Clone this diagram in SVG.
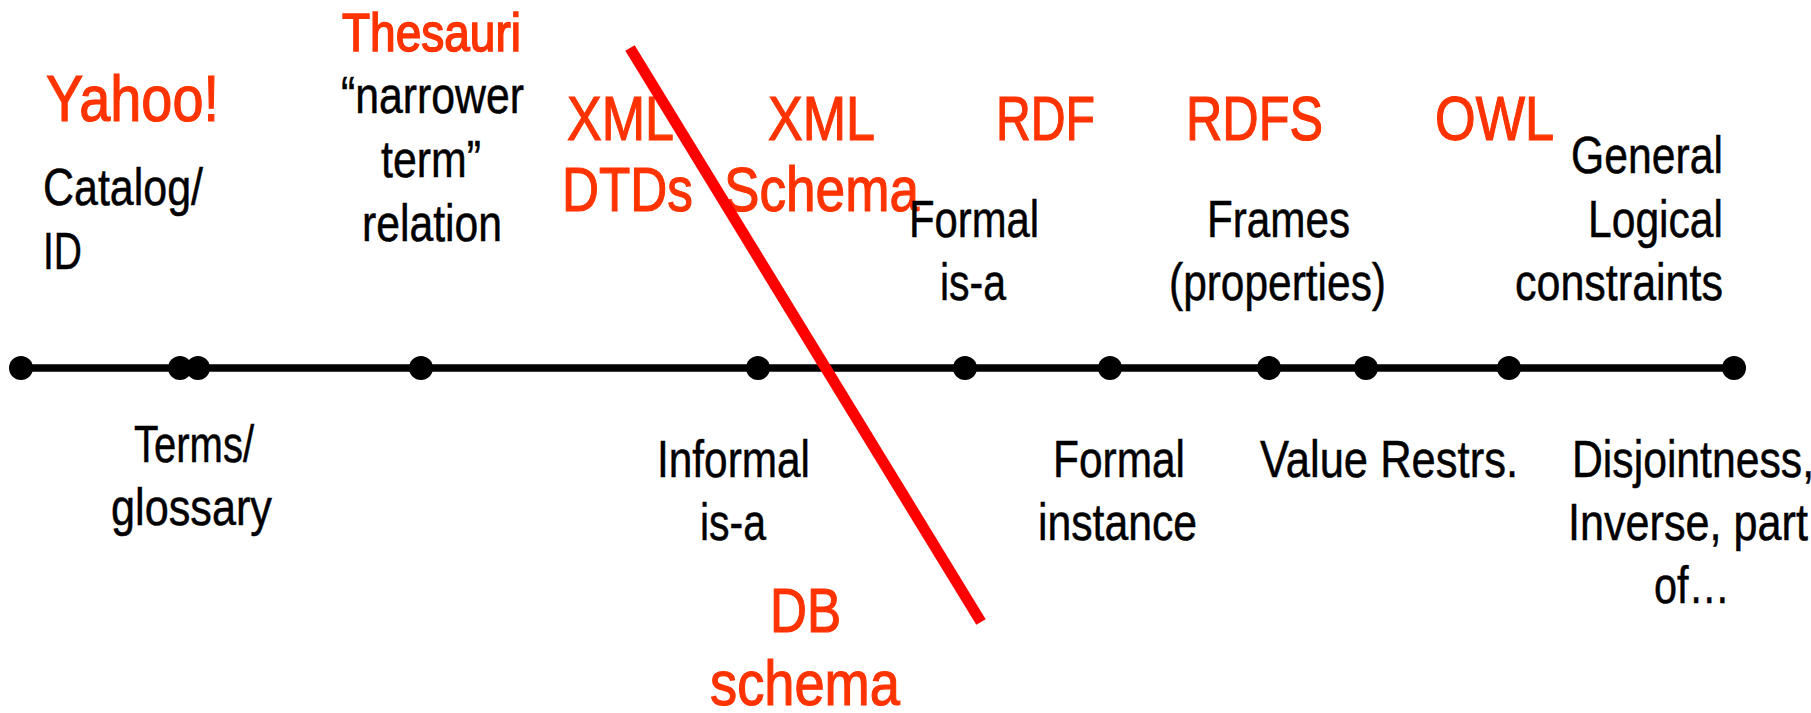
<svg xmlns="http://www.w3.org/2000/svg" width="1811" height="713" viewBox="0 0 1811 713">
<style>
text { font-family: "Liberation Sans", Arial, sans-serif; }
.red { fill: #FF3300; stroke: #FF3300; stroke-width: 1.2; font-size: 63px; }
.redS { fill: #FF3300; stroke: #FF3300; stroke-width: 1.6; font-size: 53px; }
.blk { fill: #000000; stroke: #000000; stroke-width: 0.5; font-size: 52px; }
.dot { fill: #000000; }
.axis { stroke: #000000; stroke-width: 7.5; fill: none; }
.cut { stroke: #FF0000; stroke-width: 11; fill: none; }
</style>
<rect width="1811" height="713" fill="#FFFFFF"/>
<g id="connectors">
  <line class="axis" x1="21" y1="368" x2="1734" y2="368"/>
</g>
<g id="points">
  <circle class="dot" cx="21" cy="368" r="12"/>
  <circle class="dot" cx="180" cy="368" r="12"/>
  <circle class="dot" cx="198" cy="368" r="12"/>
  <circle class="dot" cx="421" cy="368" r="12"/>
  <circle class="dot" cx="758" cy="368" r="12"/>
  <circle class="dot" cx="965" cy="368" r="12"/>
  <circle class="dot" cx="1110" cy="368" r="12"/>
  <circle class="dot" cx="1269" cy="368" r="12"/>
  <circle class="dot" cx="1366" cy="368" r="12"/>
  <circle class="dot" cx="1509" cy="368" r="12"/>
  <circle class="dot" cx="1734" cy="368" r="12"/>
</g>
<g id="yahoo">
  <text class="red" x="46" y="121" style="font-size:64px" textLength="173" lengthAdjust="spacingAndGlyphs">Yahoo!</text>
  <text class="blk" x="43" y="205" textLength="160" lengthAdjust="spacingAndGlyphs">Catalog/</text>
  <text class="blk" x="43" y="269" textLength="39" lengthAdjust="spacingAndGlyphs">ID</text>
</g>
<g id="thesauri">
  <text class="redS" x="342" y="51" textLength="179" lengthAdjust="spacingAndGlyphs">Thesauri</text>
  <text class="blk" x="341" y="113" textLength="183" lengthAdjust="spacingAndGlyphs">“narrower</text>
  <text class="blk" x="381" y="177" textLength="100" lengthAdjust="spacingAndGlyphs">term”</text>
  <text class="blk" x="362" y="241" textLength="140" lengthAdjust="spacingAndGlyphs">relation</text>
</g>
<g id="terms">
  <text class="blk" x="134" y="462" textLength="120" lengthAdjust="spacingAndGlyphs">Terms/</text>
  <text class="blk" x="111" y="525" textLength="161" lengthAdjust="spacingAndGlyphs">glossary</text>
</g>
<g id="xml-dtds">
  <text class="red" x="567" y="140" textLength="107" lengthAdjust="spacingAndGlyphs">XML</text>
  <text class="red" x="562" y="211" textLength="131" lengthAdjust="spacingAndGlyphs">DTDs</text>
</g>
<g id="xml-schema">
  <text class="red" x="768" y="140" textLength="107" lengthAdjust="spacingAndGlyphs">XML</text>
  <text class="red" x="724" y="211" textLength="195" lengthAdjust="spacingAndGlyphs">Schema</text>
</g>
<g id="informal-isa">
  <text class="blk" x="657" y="477" textLength="153" lengthAdjust="spacingAndGlyphs">Informal</text>
  <text class="blk" x="700" y="540" textLength="66" lengthAdjust="spacingAndGlyphs">is-a</text>
</g>
<g id="db-schema">
  <text class="red" x="770" y="632" textLength="71" lengthAdjust="spacingAndGlyphs">DB</text>
  <text class="red" x="710" y="705" textLength="190" lengthAdjust="spacingAndGlyphs">schema</text>
</g>
<g id="rdf">
  <text class="red" x="996" y="140" textLength="99" lengthAdjust="spacingAndGlyphs">RDF</text>
</g>
<g id="formal-isa">
  <text class="blk" x="909" y="237" textLength="130" lengthAdjust="spacingAndGlyphs">Formal</text>
  <text class="blk" x="940" y="300" textLength="66" lengthAdjust="spacingAndGlyphs">is-a</text>
</g>
<g id="formal-instance">
  <text class="blk" x="1053" y="477" textLength="132" lengthAdjust="spacingAndGlyphs">Formal</text>
  <text class="blk" x="1038" y="540" textLength="159" lengthAdjust="spacingAndGlyphs">instance</text>
</g>
<g id="rdfs">
  <text class="red" x="1186" y="140" textLength="137" lengthAdjust="spacingAndGlyphs">RDFS</text>
  <text class="blk" x="1207" y="237" textLength="143" lengthAdjust="spacingAndGlyphs">Frames</text>
  <text class="blk" x="1169" y="300" textLength="217" lengthAdjust="spacingAndGlyphs">(properties)</text>
</g>
<g id="value-restrs">
  <text class="blk" x="1260" y="477" textLength="258" lengthAdjust="spacingAndGlyphs">Value Restrs.</text>
</g>
<g id="owl">
  <text class="red" x="1435" y="140" textLength="119" lengthAdjust="spacingAndGlyphs">OWL</text>
  <text class="blk" x="1571" y="173" textLength="152" lengthAdjust="spacingAndGlyphs">General</text>
  <text class="blk" x="1588" y="237" textLength="135" lengthAdjust="spacingAndGlyphs">Logical</text>
  <text class="blk" x="1515" y="300" textLength="208" lengthAdjust="spacingAndGlyphs">constraints</text>
</g>
<g id="disjointness">
  <text class="blk" x="1572" y="477" textLength="242" lengthAdjust="spacingAndGlyphs">Disjointness,</text>
  <text class="blk" x="1568" y="540" textLength="240" lengthAdjust="spacingAndGlyphs">Inverse, part</text>
  <text class="blk" x="1654" y="603" textLength="76" lengthAdjust="spacingAndGlyphs">of…</text>
</g>
<g id="divider">
  <line class="cut" x1="630" y1="48" x2="981" y2="622"/>
</g>
</svg>
